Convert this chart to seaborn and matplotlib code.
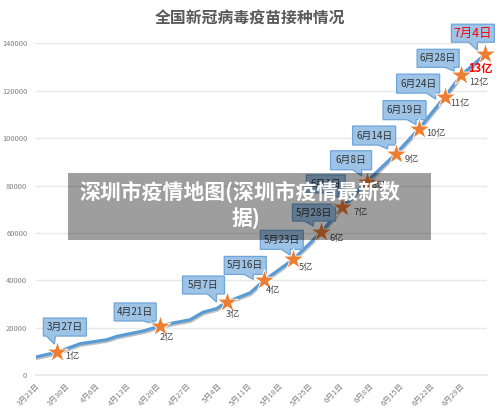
import matplotlib
matplotlib.use("Agg")
import matplotlib.pyplot as plt
import matplotlib.patheffects as pe
from matplotlib.patches import Polygon, Rectangle
from matplotlib.transforms import IdentityTransform
import numpy as np
import pandas as pd
import seaborn as sns

# ---- data ----
line_days = [0, 5, 10.2, 16.4, 18.7, 24.8, 28.7, 32.1, 35.6, 38.6, 41.7, 44, 49.4, 52.7,
             59.4, 65.9, 70.7, 76.3, 83, 88.4, 94.3, 98.1, 103.7]
line_doses = [7700, 9800, 13300, 15000, 16400, 18700, 20800, 22200, 23400, 26600, 28100, 30900,
              34700, 40000, 48900, 60400, 71000, 81600, 93300, 104000, 117300, 126500, 135400]
star_days = [5, 28.7, 44, 52.7, 59.4, 65.9, 70.7, 76.3, 83, 88.4, 94.3, 98.1, 103.7]
star_doses = [9800, 20800, 30900, 40000, 48900, 60400, 71000, 81600, 93300, 104000, 117300, 126500, 135400]
star_dates = ["3月27日", "4月21日", "5月7日", "5月16日", "5月23日", "5月28日", "6月1日", "6月8日",
              "6月14日", "6月19日", "6月24日", "6月28日", "7月4日"]
star_totals = ["1亿", "2亿", "3亿", "4亿", "5亿", "6亿", "7亿", "8亿", "9亿", "10亿", "11亿", "12亿", "13亿"]
tick_labels = ["3月23日", "3月30日", "4月6日", "4月13日", "4月20日", "4月27日", "5月4日", "5月11日",
               "5月18日", "5月25日", "6月1日", "6月8日", "6月15日", "6月22日", "6月29日"]
y_ticks = [0, 20000, 40000, 60000, 80000, 100000, 120000, 140000]
title = "全国新冠病毒疫苗接种情况"
overlay_lines = ["深圳市疫情地图(深圳市疫情最新数", "据)"]

# ---- layout (pixels, relative to each star; y down) ----
box_left = [-14, -46, -44, -40, -33, -29, -36, -36, -43, -36, -48, -44, -34]
box_top = [-34, -23, -26, -24, -29, -28, -32, -31, -28, -28, -23, -26, -30]
box_w = [43, 42, 42, 42, 43, 43, 39, 41, 43, 43, 43, 42, 43]
box_h = [18, 18, 18, 18, 19, 17, 18, 19, 19, 19, 19, 18, 18]
tip_dx = [-3, -3, -10, -11, -3, -8, -4, -5, -8, -3, -9, -7, -8]
tip_dy = [-8, -1, 0, -1, -4, -6, -9, -6, -5, -4, 2, -4, -4]
label_dx = [15, 7, 6, 9, 13, 15, 18, 12, 16, 17, 15, 18, -5]
label_dy = [4, 12, 12, 10, 8, 6, 6, 4, 5, 5, 6, 7, 14]

sns.set_theme(style="white")
plt.rcParams["font.family"] = ["Noto Sans CJK SC", "DejaVu Sans"]

W, H = 500, 414
fig = plt.figure(figsize=(W / 100, (H + 0.01) / 100), dpi=100, facecolor="white")
ax = fig.add_axes([35.7 / W, (H - 375.3) / H, 451 / W, 332 / H])
ax.set_facecolor("white")

df_line = pd.DataFrame({"day": line_days, "doses": line_doses})
df_star = pd.DataFrame({"day": star_days, "doses": star_doses})

sns.lineplot(data=df_line, x="day", y="doses", ax=ax, color="#5B9BD5", linewidth=2.3, zorder=3,
             solid_joinstyle="round", solid_capstyle="round",
             path_effects=[pe.Stroke(linewidth=3.4, foreground="#FFFFFF"),
                           pe.SimpleLineShadow(offset=(0.5, -1.1), shadow_color="#666666", alpha=0.4),
                           pe.Normal()])
sns.scatterplot(data=df_star, x="day", y="doses", ax=ax, marker="*", s=250, color="#ED7D31",
                edgecolor="white", linewidth=0.6, zorder=5, clip_on=False)

ax.set_xlim(0, 104)
ax.set_ylim(0, 140000)
ax.set_xticks(np.arange(len(tick_labels)) * 7)
ax.set_xticklabels(tick_labels, rotation=45, ha="right", rotation_mode="anchor",
                   fontsize=5.6, color="#808080")
ax.set_yticks(y_ticks)
ax.set_yticklabels([str(v) for v in y_ticks], fontsize=5.4, color="#808080")
ax.tick_params(axis="x", length=3, width=0.7, color="#DDDDDD", pad=2)
ax.tick_params(axis="y", length=0, pad=6)
ax.grid(axis="y", color="#E8E8E8", linewidth=1.0)
ax.set_axisbelow(True)
ax.set_xlabel("")
ax.set_ylabel("")
for side in ["top", "right", "left"]:
    ax.spines[side].set_visible(False)
ax.spines["bottom"].set_color("#E6E6E6")
ax.spines["bottom"].set_linewidth(1.2)

fig.canvas.draw()
px = ax.transData.transform(np.column_stack([star_days, star_doses]))
idt = IdentityTransform()
for i, (sx, sy) in enumerate(px):
    left = sx + box_left[i]
    top = sy - box_top[i]
    w, h = box_w[i], box_h[i]
    bottom = top - h
    tx, ty = sx + tip_dx[i], sy - tip_dy[i]
    bx = min(max(tx, left + 12), left + w - 4)
    verts = [(left, top), (left + w, top), (left + w, bottom), (bx, bottom), (tx, ty),
             (bx - 9, bottom), (left, bottom)]
    ax.add_patch(Polygon(verts, closed=True, transform=idt, facecolor="#9DC3E6", edgecolor="#6FA5D8",
                         linewidth=0.9, zorder=4, clip_on=False))
    last = i == len(px) - 1
    ax.text(left + w / 2, bottom + h / 2, star_dates[i], transform=idt, ha="center", va="center",
            fontsize=8.9 if last else 7.1, color="#FF0000" if last else "#333333", zorder=6, clip_on=False)
    ax.text(sx + label_dx[i], sy - label_dy[i], star_totals[i], transform=idt, ha="center", va="center",
            fontsize=8.1 if last else 6.6, color="#FF0000" if last else "#444444",
            fontweight="bold" if last else "normal", zorder=6, clip_on=False)

fig.text(250 / W, (H - 19) / H, title, ha="center", va="center", fontsize=11.4,
         fontweight="bold", color="#595959")

fig.add_artist(Rectangle((68 / W, (H - 240) / H), 363 / W, 67 / H, transform=fig.transFigure,
                         facecolor="#000000", alpha=0.38, edgecolor="none", zorder=10))
fig.text(239.5 / W, (H - 191.5) / H, overlay_lines[0], ha="center", va="center", fontsize=15,
         fontweight="bold", color="white", zorder=11)
fig.text(245.5 / W, (H - 218.5) / H, overlay_lines[1], ha="center", va="center", fontsize=15,
         fontweight="bold", color="white", zorder=11)

fig.savefig("out.png", dpi=100, facecolor="white")
